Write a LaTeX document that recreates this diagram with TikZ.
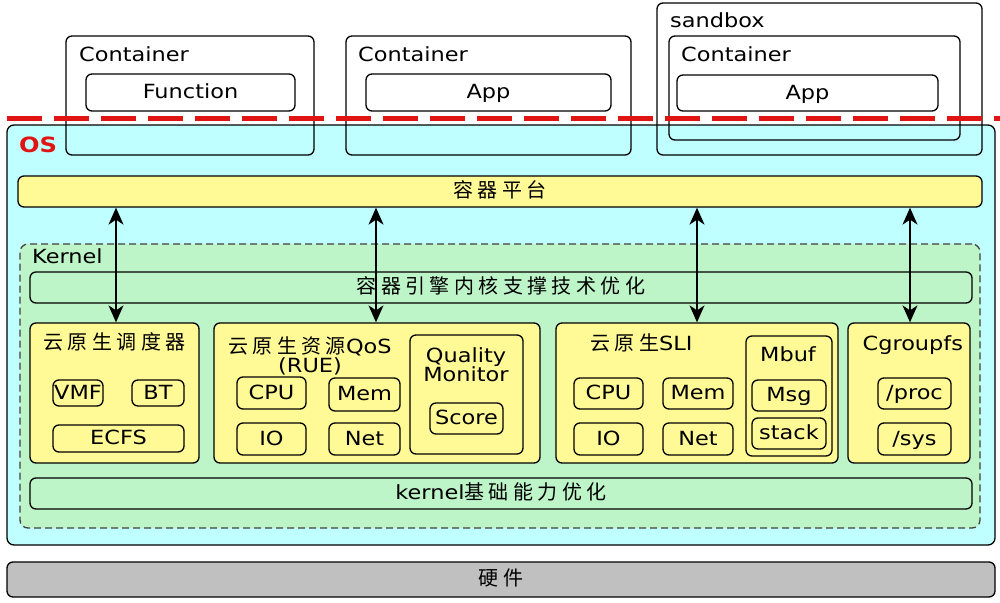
\documentclass[tikz,border=0pt]{standalone}
\usepackage{fontspec}
\setmainfont{DejaVu Sans}[FakeStretch=1.15]
\newfontfamily\cjk{Noto Sans CJK SC}[LetterSpace=22]
\usetikzlibrary{arrows.meta}
\definecolor{oscyan}{RGB}{192,255,255}
\definecolor{kgreen}{RGB}{190,245,200}
\definecolor{yel}{RGB}{255,250,150}
\definecolor{hwgray}{RGB}{192,192,192}
\definecolor{dred}{RGB}{225,20,20}
\newcommand\zh[1]{{\fontsize{20}{22}\selectfont\cjk #1}}
\newcommand\fs{\fontsize{19.5}{21}\selectfont}
\begin{document}
\begin{tikzpicture}[x=1pt,y=-1pt,
  bx/.style n args={2}{draw, line width=1.3pt, rounded corners=6pt, inner sep=0pt,
     minimum width=#1pt, minimum height=#2pt, font=\fs, text height=12pt, text depth=0pt},
  ybx/.style n args={2}{bx={#1}{#2}, fill=yel},
  gbx/.style n args={2}{bx={#1}{#2}, fill=kgreen},
  ttl/.style={inner sep=0pt, font=\fs, text height=12pt, text depth=0pt},
  lbl/.style={inner sep=0pt, font=\fs, anchor=base west},
  dbl/.style={line width=1.4pt, {Stealth[length=17pt,width=15pt,inset=5pt]}-{Stealth[length=17pt,width=15pt,inset=5pt]}}
]
\useasboundingbox (0,0) rectangle (1000,602);
% OS
\node[bx={988}{420}, fill=oscyan, rounded corners=7pt] (os) at (501,335) {};
\node[lbl, text=dred, font=\fontsize{21}{23}\selectfont\bfseries] (oslbl) at (19,152) {OS};
% containers
\node[bx={248}{119}] (c1) at (190,95.5) {};
\node[ttl, anchor=west] (c1l) at (79,56) {Container};
\node[bx={209}{37}] (f1) at (190.5,92.5) {Function};
\node[bx={285}{119}] (c2) at (488.5,95.5) {};
\node[ttl, anchor=west] (c2l) at (358,56) {Container};
\node[bx={245}{37}] (a2) at (488.5,92.5) {App};
\node[bx={325}{152}] (sb) at (819.5,79) {};
\node[lbl] (sbl) at (670,28) {sandbox};
\node[bx={291}{104}] (c3) at (814.5,88) {};
\node[ttl, anchor=west] (c3l) at (681,56) {Container};
\node[bx={261}{36}] (a3) at (807.5,93) {App};
% platform
\node[ybx={964}{31}] (pf) at (500,191.5) {\zh{容器平台}};
% kernel
\node[draw=black!75, fill=kgreen, line width=1.3pt, dash pattern=on 7pt off 4pt,
      rounded corners=8pt, minimum width=960pt, minimum height=284pt, inner sep=0pt] (kern) at (500,386) {};
\node[lbl] (kl) at (32,263) {Kernel};
\node[gbx={942}{31}] (eng) at (501,287.5) {\zh{容器引擎内核支撑技术优化}};
% scheduler
\node[ybx={169}{140}] (sched) at (114.5,393) {};
\node[ttl] (schedt) at (114.5,343.5) {\zh{云原生调度器}};
\node[bx={50}{26}] (vmf) at (78,393) {VMF};
\node[bx={52}{26}] (bt) at (158,393) {BT};
\node[bx={131}{27}] (ecfs) at (118.5,438.5) {ECFS};
% QoS
\node[ybx={326}{140}] (qos) at (377,393) {};
\node[ttl] (qost) at (310,347) {\zh{云原生资源}QoS};
\node[ttl] (qosr) at (310,366) {(RUE)};
\node[bx={69}{32}] (qcpu) at (271.5,393) {CPU};
\node[bx={71}{33}] (qmem) at (364.5,394.5) {Mem};
\node[bx={69}{32}] (qio) at (271.5,439) {IO};
\node[bx={71}{32}] (qnet) at (364.5,439) {Net};
\node[bx={113}{119}] (qm) at (466.5,394.5) {};
\node[ttl] (qmt1) at (466,356) {Quality};
\node[ttl] (qmt2) at (466,375) {Monitor};
\node[bx={73}{31}] (score) at (466.5,418.5) {Score};
% SLI
\node[ybx={282}{140}] (sli) at (697,393) {};
\node[ttl] (slit) at (641.5,344.5) {\zh{云原生}SLI};
\node[bx={69}{31}] (scpu) at (608.5,393.5) {CPU};
\node[bx={70}{31}] (smem) at (698,393.5) {Mem};
\node[bx={69}{32}] (sio) at (608.5,439) {IO};
\node[bx={70}{32}] (snet) at (698,439) {Net};
\node[bx={86}{120}] (mbuf) at (789,396) {};
\node[ttl] (mbuft) at (788,355.5) {Mbuf};
\node[bx={74}{31}] (msg) at (789,395.5) {Msg};
\node[bx={74}{31}] (stack) at (789,433.5) {stack};
% Cgroupfs
\node[ybx={122}{140}] (cg) at (909,393) {};
\node[ttl] (cgt) at (912.8,344.5) {Cgroupfs};
\node[bx={73}{31}] (proc) at (914.5,393.5) {/proc};
\node[bx={73}{32}] (sys) at (914.5,439) {/sys};
% base
\node[gbx={942}{31}] (base) at (501,493.5) {kernel\zh{基础能力优化}};
% hardware
\node[bx={988}{35}, fill=hwgray] (hw) at (501,579.5) {\zh{硬件}};
% arrows
\coordinate (ax1) at (116,0);
\coordinate (ax2) at (376,0);
\coordinate (ax3) at (697,0);
\coordinate (ax4) at (910,0);
\draw[dbl] (pf.south -| ax1) -- (sched.north -| ax1);
\draw[dbl] (pf.south -| ax2) -- (qos.north -| ax2);
\draw[dbl] (pf.south -| ax3) -- (sli.north -| ax3);
\draw[dbl] (pf.south -| ax4) -- (cg.north -| ax4);
% red dashed line
\coordinate (r0) at (7,118);
\coordinate (r1) at (1000,118);
\draw[dred, line width=5pt, dash pattern=on 35pt off 12pt] (r0) -- (r1);
\end{tikzpicture}
\end{document}
